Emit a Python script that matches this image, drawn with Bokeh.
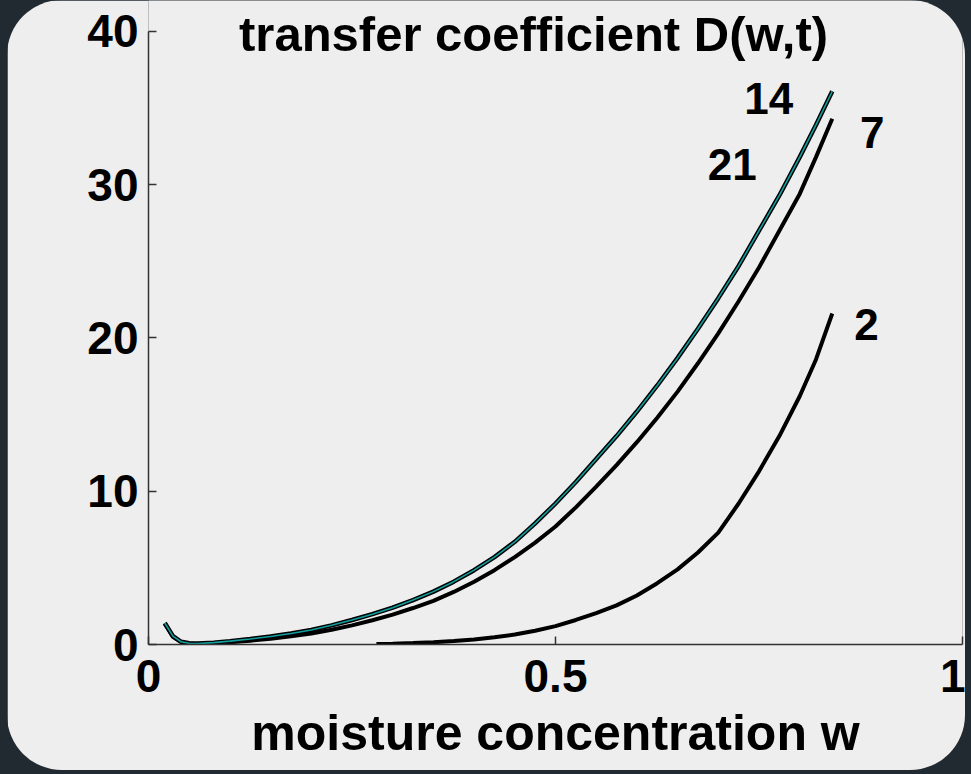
from bokeh.plotting import figure
from bokeh.models import Label, Range1d, FixedTicker
from bokeh.layouts import column
from bokeh.core.properties import value
from bokeh.embed import file_html
from bokeh.resources import INLINE

# moisture concentration w (x) and transfer coefficient D(w,t) for each t
w_7_14_21 = [0.02, 0.03, 0.04, 0.05, 0.06, 0.08, 0.10, 0.125, 0.15, 0.175, 0.20, 0.225,
             0.25, 0.275, 0.30, 0.325, 0.35, 0.375, 0.40, 0.425, 0.45, 0.475, 0.50,
             0.525, 0.55, 0.575, 0.60, 0.625, 0.65, 0.675, 0.70, 0.725, 0.75, 0.775,
             0.80, 0.82, 0.84]
d_14 = [1.4, 0.55, 0.18, 0.08, 0.06, 0.12, 0.22, 0.36, 0.52, 0.72, 0.95, 1.25,
        1.6, 1.98, 2.4, 2.9, 3.45, 4.1, 4.85, 5.7, 6.7, 7.9, 9.2,
        10.6, 12.1, 13.6, 15.2, 16.9, 18.7, 20.6, 22.6, 24.7, 27.0, 29.3,
        31.8, 33.9, 36.1]
d_21 = [1.4, 0.55, 0.18, 0.08, 0.06, 0.12, 0.22, 0.36, 0.52, 0.72, 0.95, 1.25,
        1.6, 1.98, 2.4, 2.9, 3.45, 4.1, 4.85, 5.7, 6.7, 7.9, 9.2,
        10.6, 12.1, 13.6, 15.2, 16.9, 18.7, 20.6, 22.6, 24.7, 27.0, 29.3,
        31.8, 33.9, 36.1]
d_7 = [1.35, 0.5, 0.15, 0.06, 0.04, 0.07, 0.14, 0.25, 0.38, 0.54, 0.72, 0.96,
       1.25, 1.58, 1.95, 2.38, 2.85, 3.43, 4.1, 4.85, 5.7, 6.65, 7.7,
       8.95, 10.3, 11.7, 13.2, 14.8, 16.5, 18.35, 20.3, 22.4, 24.6, 27.0,
       29.4, 31.8, 34.3]
w_2 = [0.28, 0.30, 0.325, 0.35, 0.375, 0.40, 0.425, 0.45, 0.475, 0.50, 0.525, 0.55,
       0.575, 0.60, 0.625, 0.65, 0.675, 0.70, 0.725, 0.75, 0.775, 0.80, 0.82, 0.84]
d_2 = [0.03, 0.05, 0.09, 0.15, 0.23, 0.33, 0.47, 0.65, 0.9, 1.2, 1.6, 2.05,
       2.55, 3.2, 4.0, 4.9, 6.0, 7.3, 9.2, 11.3, 13.6, 16.2, 18.6, 21.6]

x_ticks = [0, 0.5, 1]
x_tick_labels = ["0", "0.5", "1"]
y_ticks = [0, 10, 20, 30, 40]

curve_labels = ["14", "7", "21", "2"]
curve_label_w = [0.762, 0.889, 0.717, 0.882]
curve_label_d = [35.6, 33.4, 31.3, 20.9]

title_text = "transfer coefficient D(w,t)"
x_label = "moisture concentration w"

FONT = "Liberation Sans"
PANEL = "#eeeeee"
DARK = "#222a31"

p = figure(width=958, height=770, x_range=Range1d(0, 1), y_range=Range1d(0, 42.02),
           output_backend="svg", toolbar_location=None,
           min_border_left=141, min_border_right=3, min_border_top=0, min_border_bottom=126)
p.margin = (0, 6, 4, 7)
p.background_fill_color = PANEL
p.border_fill_color = PANEL
p.outline_line_color = None
p.grid.visible = False
p.styles = {"border-radius": "55px", "overflow": "hidden"}

for ax in (p.xaxis[0], p.yaxis[0]):
    ax.axis_line_color = "#333333"
    ax.axis_line_width = 1.5
    ax.major_tick_line_color = "#333333"
    ax.major_tick_line_width = 1.5
    ax.major_tick_in = 8
    ax.major_tick_out = 0
    ax.minor_tick_line_color = None
    ax.major_label_text_font = FONT
    ax.major_label_text_font_style = "bold"
    ax.major_label_text_font_size = "46px"
    ax.major_label_text_color = "black"

p.xaxis.ticker = FixedTicker(ticks=x_ticks)
p.xaxis.major_label_overrides = {t: s for t, s in zip(x_ticks, x_tick_labels)}
p.xaxis.major_label_standoff = 15
p.xaxis.bounds = (0, 1)
p.yaxis.ticker = FixedTicker(ticks=y_ticks)
p.yaxis.major_label_standoff = 10
p.yaxis.bounds = (0, 40)

p.xaxis.axis_label = x_label
p.xaxis.axis_label_text_font = FONT
p.xaxis.axis_label_text_font_style = "bold"
p.xaxis.axis_label_text_font_size = "50px"
p.xaxis.axis_label_text_color = "black"
p.xaxis.axis_label_standoff = 10

p.line(w_2, d_2, line_color="black", line_width=4)
p.line(w_7_14_21, d_7, line_color="black", line_width=4)
p.line(w_7_14_21, d_21, line_color="black", line_width=4.5)
p.line(w_7_14_21, d_14, line_color="#129e9e", line_width=1.6)

p.text(x=curve_label_w, y=curve_label_d, text=curve_labels,
       text_font=value(FONT), text_font_style="bold", text_font_size="44px",
       text_align="center", text_baseline="middle", text_color="black")

p.add_layout(Label(x=0.473, y=39.85, text=title_text, text_font=FONT,
                   text_font_style="bold", text_font_size="49px",
                   text_align="center", text_baseline="alphabetic", text_color="black"))

layout = column(p, width=971, height=774, styles={"background-color": DARK})

open("out.html", "w").write(file_html(layout, INLINE))
